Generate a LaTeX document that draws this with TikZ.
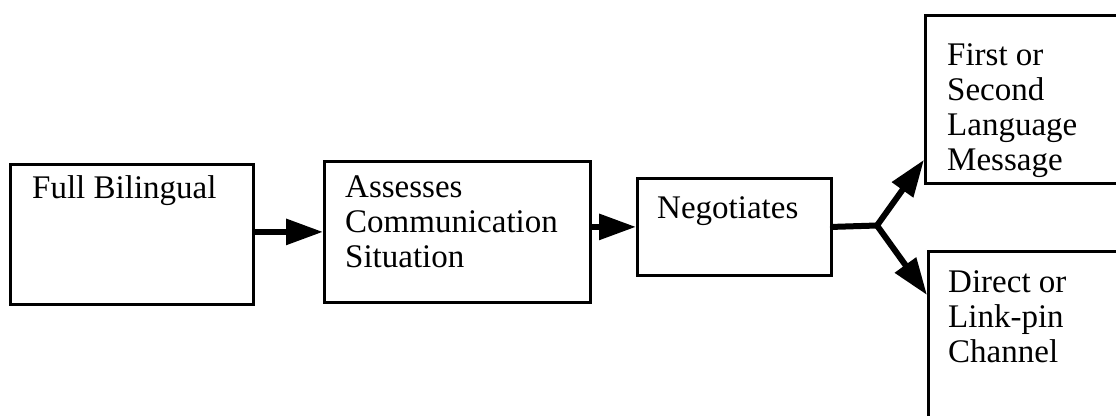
\documentclass[tikz,border=0pt]{standalone}
\usepackage{fontspec}
\setmainfont{Liberation Serif}
\usetikzlibrary{arrows.meta}
\begin{document}
\begin{tikzpicture}[x=1pt,y=-1pt,
  box/.style={draw,line width=2.8pt,inner sep=0pt,anchor=north west},
  label/.style={anchor=base west,inner sep=0pt,font=\fontsize{33}{35}\selectfont},
  flow/.style={line width=6pt},
  arrow/.style={flow,-{Triangle[length=37pt,width=25pt]}}]
  \useasboundingbox (0,0) rectangle (1116,415);
  % boxes
  \node[box,minimum width=243pt,minimum height=140pt] (b1) at (9,163) {};
  \node[box,minimum width=266pt,minimum height=141pt] (b2) at (323,160) {};
  \node[box,minimum width=194pt,minimum height=97pt] (b3) at (636,177) {};
  \node[box,minimum width=240pt,minimum height=168pt] (b4) at (924,14) {};
  \node[box,minimum width=240pt,minimum height=220pt] (b5) at (927,250) {};
  % texts
  \node[label] (t1) at (32,198) {Full Bilingual};
  \node[label] (t2) at (345,197) {\begin{tabular}[t]{@{}l@{}}Assesses\\Communication\\Situation\end{tabular}};
  \node[label] (t3) at (657,218) {Negotiates};
  \node[label] (t4) at (947,65) {\begin{tabular}[t]{@{}l@{}}First or\\Second\\Language\\Message\end{tabular}};
  \node[label] (t5) at (948,292) {\begin{tabular}[t]{@{}l@{}}Direct or\\Link-pin\\Channel\end{tabular}};
  % connectors
  \coordinate (split) at (877,225.5);
  \draw[arrow] (b1.east |- b2.west) -- (b2.west);
  \draw[arrow] (b2.east |- b3.west) -- (b3.west);
  \draw[flow,line cap=round] (b3.east) -- (split);
  \draw[arrow,line cap=round] (split) -- ([yshift=25pt]b4.south west);
  \draw[arrow,line cap=round] (split) -- ([yshift=-45pt]b5.north west);
\end{tikzpicture}
\end{document}
